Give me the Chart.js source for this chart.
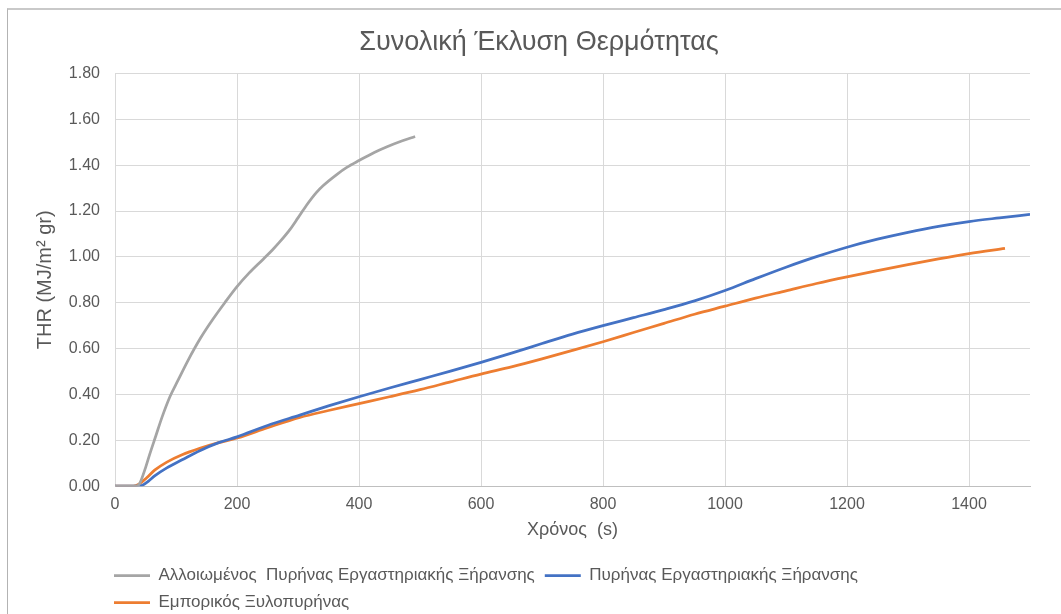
<!DOCTYPE html>
<html>
<head>
<meta charset="utf-8">
<script src="https://cdn.jsdelivr.net/npm/chart.js@4.4.1/dist/chart.umd.min.js"></script>
<style>
  html, body { margin: 0; padding: 0; background: #fff; overflow: hidden; }
  #frame {
    position: absolute; left: 7px; top: 8px;
    border-top: 2px solid #c9c9c9; border-left: 1px solid #b3b3b3;
    width: 1062px; height: 620px;
  }
</style>
</head>
<body>
<div id="frame"><canvas id="c"></canvas></div>
<script>
// Series: time (s) and THR (MJ/m² gr)
const seriesNames = [
  "Αλλοιωμένος  Πυρήνας Εργαστηριακής Ξήρανσης",
  "Πυρήνας Εργαστηριακής Ξήρανσης",
  "Εμπορικός Ξυλοπυρήνας",
];

const grayTime = [0, 20, 35, 40, 50, 57, 67, 77, 90, 103, 120, 140, 161, 180, 200, 220, 243, 258, 270, 287, 300, 314, 330, 341, 364, 380, 400, 425, 446, 470, 492];
const grayThr  = [0, 0, 0, 0.01, 0.08, 0.14, 0.22, 0.30, 0.39, 0.46, 0.55, 0.645, 0.73, 0.80, 0.87, 0.93, 0.99, 1.03, 1.065, 1.12, 1.17, 1.225, 1.28, 1.31, 1.36, 1.39, 1.42, 1.455, 1.48, 1.505, 1.525];

const blueTime = [0, 40, 45, 55, 65, 85, 110, 139, 170, 200, 250, 303, 350, 400, 450, 500, 550, 600, 650, 700, 750, 800, 850, 900, 950, 1000, 1050, 1100, 1150, 1200, 1250, 1300, 1350, 1400, 1450, 1500];
const blueThr  = [0, 0, 0.004, 0.022, 0.045, 0.08, 0.115, 0.155, 0.19, 0.215, 0.265, 0.31, 0.35, 0.39, 0.428, 0.465, 0.502, 0.54, 0.58, 0.622, 0.663, 0.70, 0.735, 0.77, 0.808, 0.853, 0.905, 0.955, 1.001, 1.042, 1.077, 1.107, 1.133, 1.154, 1.17, 1.185];

const orangeTime = [0, 30, 40, 52, 65, 85, 110, 139, 170, 200, 250, 303, 350, 400, 450, 500, 550, 600, 650, 700, 750, 800, 850, 900, 950, 1000, 1050, 1100, 1150, 1200, 1250, 1300, 1350, 1400, 1459];
const orangeThr  = [0, 0, 0.01, 0.037, 0.07, 0.105, 0.137, 0.165, 0.19, 0.21, 0.255, 0.30, 0.33, 0.36, 0.39, 0.421, 0.455, 0.489, 0.52, 0.555, 0.592, 0.63, 0.67, 0.71, 0.75, 0.785, 0.82, 0.852, 0.884, 0.913, 0.94, 0.966, 0.991, 1.014, 1.037];

const seriesColors = ["#a5a5a5", "#4472c4", "#ed7d31"];

const FONT = "'Liberation Sans', Arial, sans-serif";
const TEXT = "#595959";

const pts = (xs, ys) => xs.map((x, i) => ({ x, y: ys[i] }));

const datasets = [
  pts(grayTime, grayThr),
  pts(blueTime, blueThr),
  pts(orangeTime, orangeThr),
].map((data, i) => ({
  label: seriesNames[i],
  data,
  borderColor: seriesColors[i],
  backgroundColor: seriesColors[i],
  borderWidth: 2.75,
  pointRadius: 0,
  cubicInterpolationMode: "monotone",
}));

// nudge the (chart-area wide) legend so its first item lines up with the plot edge
const legendShift = {
  id: "legendShift",
  afterLayout(chart) {
    chart.legend.left -= 11;
  },
};

new Chart(document.getElementById("c"), {
  type: "line",
  data: { datasets },
  plugins: [legendShift],
  options: {
    responsive: true,
    maintainAspectRatio: false,
    animation: false,
    layout: { padding: { top: 0, left: 0, right: 0, bottom: 9 } },
    plugins: {
      title: {
        display: true,
        text: "Συνολική Έκλυση Θερμότητας",
        color: TEXT,
        font: { family: FONT, size: 27, weight: "normal" },
        padding: { top: 16, bottom: 15 },
      },
      legend: {
        position: "bottom",
        align: "start",
        fullSize: false,
        labels: {
          color: TEXT,
          font: { family: FONT, size: 17 },
          usePointStyle: true,
          pointStyle: "line",
          pointStyleWidth: 36,
          padding: 10,
        },
      },
      tooltip: { enabled: false },
    },
    scales: {
      x: {
        type: "linear",
        min: 0,
        max: 1500,
        grid: { color: "#d9d9d9", drawTicks: false },
        border: { color: "#bfbfbf" },
        ticks: {
          stepSize: 200,
          includeBounds: false,
          color: TEXT,
          padding: 9,
          maxRotation: 0,
          font: { family: FONT, size: 16 },
          callback: (v) => String(v),
        },
        title: {
          display: true,
          text: "Χρόνος  (s)",
          color: TEXT,
          font: { family: FONT, size: 18 },
          padding: { top: 2, bottom: 16 },
        },
        afterFit(s) { s.height -= 6; },
      },
      y: {
        min: 0,
        max: 1.8,
        grid: { color: "#d9d9d9", drawTicks: false },
        border: { color: "#d9d9d9" },
        ticks: {
          stepSize: 0.2,
          color: TEXT,
          padding: 15,
          font: { family: FONT, size: 16 },
          callback: (v) => Number(v).toFixed(2),
        },
        title: {
          display: true,
          text: "THR (MJ/m² gr)",
          color: TEXT,
          font: { family: FONT, size: 20 },
          padding: { top: 25, bottom: 0 },
        },
        afterFit(s) { s.width = 107; },
      },
      // empty right-hand gutter, keeps the plot end at 1500 s where the reference has it
      y2: {
        position: "right",
        grid: { display: false },
        border: { display: false },
        ticks: { display: false },
        afterFit(s) { s.width = 40; },
      },
    },
  },
});
</script>
</body>
</html>
